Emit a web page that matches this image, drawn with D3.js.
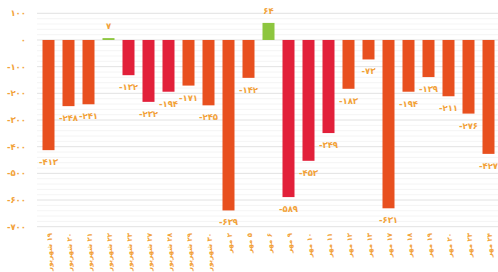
<!DOCTYPE html>
<html><head><meta charset="utf-8">
<script src="https://cdn.jsdelivr.net/npm/d3@7"></script>
<style>
html,body{margin:0;padding:0;background:#fff;}
svg{display:block;font-family:"DejaVu Sans","Noto Sans",sans-serif;}
</style></head>
<body>
<script>
const categories = ["۱۹ شهریور","۲۰ شهریور","۲۱ شهریور","۲۲ شهریور","۲۳ شهریور","۲۷ شهریور","۲۸ شهریور","۲۹ شهریور","۳۰ شهریور",
  "۲ مهر","۵ مهر","۶ مهر","۹ مهر","۱۰ مهر","۱۱ مهر","۱۲ مهر","۱۳ مهر","۱۷ مهر","۱۸ مهر","۱۹ مهر","۲۰ مهر","۲۳ مهر","۲۴ مهر"];
const values = [-413,-248,-241,7,-132,-232,-194,-171,-245,-639,-142,64,-589,-453,-349,-183,-73,-631,-194,-139,-211,-276,-427];
const colorGroup = ["o","o","o","g","r","r","r","o","o","o","o","g","r","r","r","o","o","o","o","o","o","o","o"];
const yTicks = [100,0,-100,-200,-300,-400,-500,-600,-700];
const palette = {o:"#E8501F", r:"#E2203A", g:"#8DC63F"};
const textColor = "#F2A23A";

const W = 498, H = 272;
const fa = n => String(n).replace(/\d/g, d => "۰۱۲۳۴۵۶۷۸۹"[d]);

const svg = d3.select("body").append("svg").attr("width", W).attr("height", H);

const x = d3.scaleBand().domain(d3.range(values.length)).range([38.5, 498.5]).paddingInner(0.4).paddingOuter(0.2);
const y = d3.scaleLinear().domain([-700, 100]).range([226.7, 13.3]);

// minor grid
svg.append("g").selectAll("line").data(d3.range(-700, 101, 20).filter(v => v % 100 !== 0))
  .join("line").attr("x1", 37).attr("x2", W).attr("y1", d => y(d)).attr("y2", d => y(d))
  .attr("stroke", "#f1f1f1").attr("stroke-width", 0.8);
// major grid
svg.append("g").selectAll("line").data(yTicks)
  .join("line").attr("x1", 37).attr("x2", W).attr("y1", d => y(d)).attr("y2", d => y(d))
  .attr("stroke", "#e2e2e2").attr("stroke-width", 1);

// y tick labels
svg.append("g").selectAll("text").data(yTicks).join("text")
  .attr("x", 26).attr("y", d => y(d)).attr("dy", "0.35em")
  .attr("text-anchor", "end").attr("fill", textColor)
  .attr("font-size", 8.5).attr("font-weight", "bold")
  .text(d => d < 0 ? "-" + fa(-d) : fa(d));

// bars
svg.append("g").selectAll("rect").data(values).join("rect")
  .attr("x", (d, i) => x(i)).attr("width", x.bandwidth())
  .attr("y", d => y(Math.max(0, d))).attr("height", d => Math.abs(y(d) - y(0)))
  .attr("fill", (d, i) => palette[colorGroup[i]]);

// value labels
svg.append("g").selectAll("text").data(values).join("text")
  .attr("x", (d, i) => x(i) + x.bandwidth() / 2)
  .attr("y", d => d < 0 ? y(d) + 12 : y(d) - 12)
  .attr("dy", "0.35em").attr("text-anchor", "middle")
  .attr("fill", textColor).attr("font-size", 8.5).attr("font-weight", "bold")
  .text(d => d < 0 ? "-" + fa(-d) : fa(d));

// x labels
svg.append("g").selectAll("text").data(categories).join("text")
  .attr("transform", (d, i) => `translate(${x(i) + x.bandwidth() / 2 + 3},233) rotate(-90)`)
  .attr("direction", "rtl")
  .attr("text-anchor", "start").attr("fill", textColor)
  .attr("font-size", 7).attr("font-weight", "bold")
  .text(d => d);
</script>
</body></html>
